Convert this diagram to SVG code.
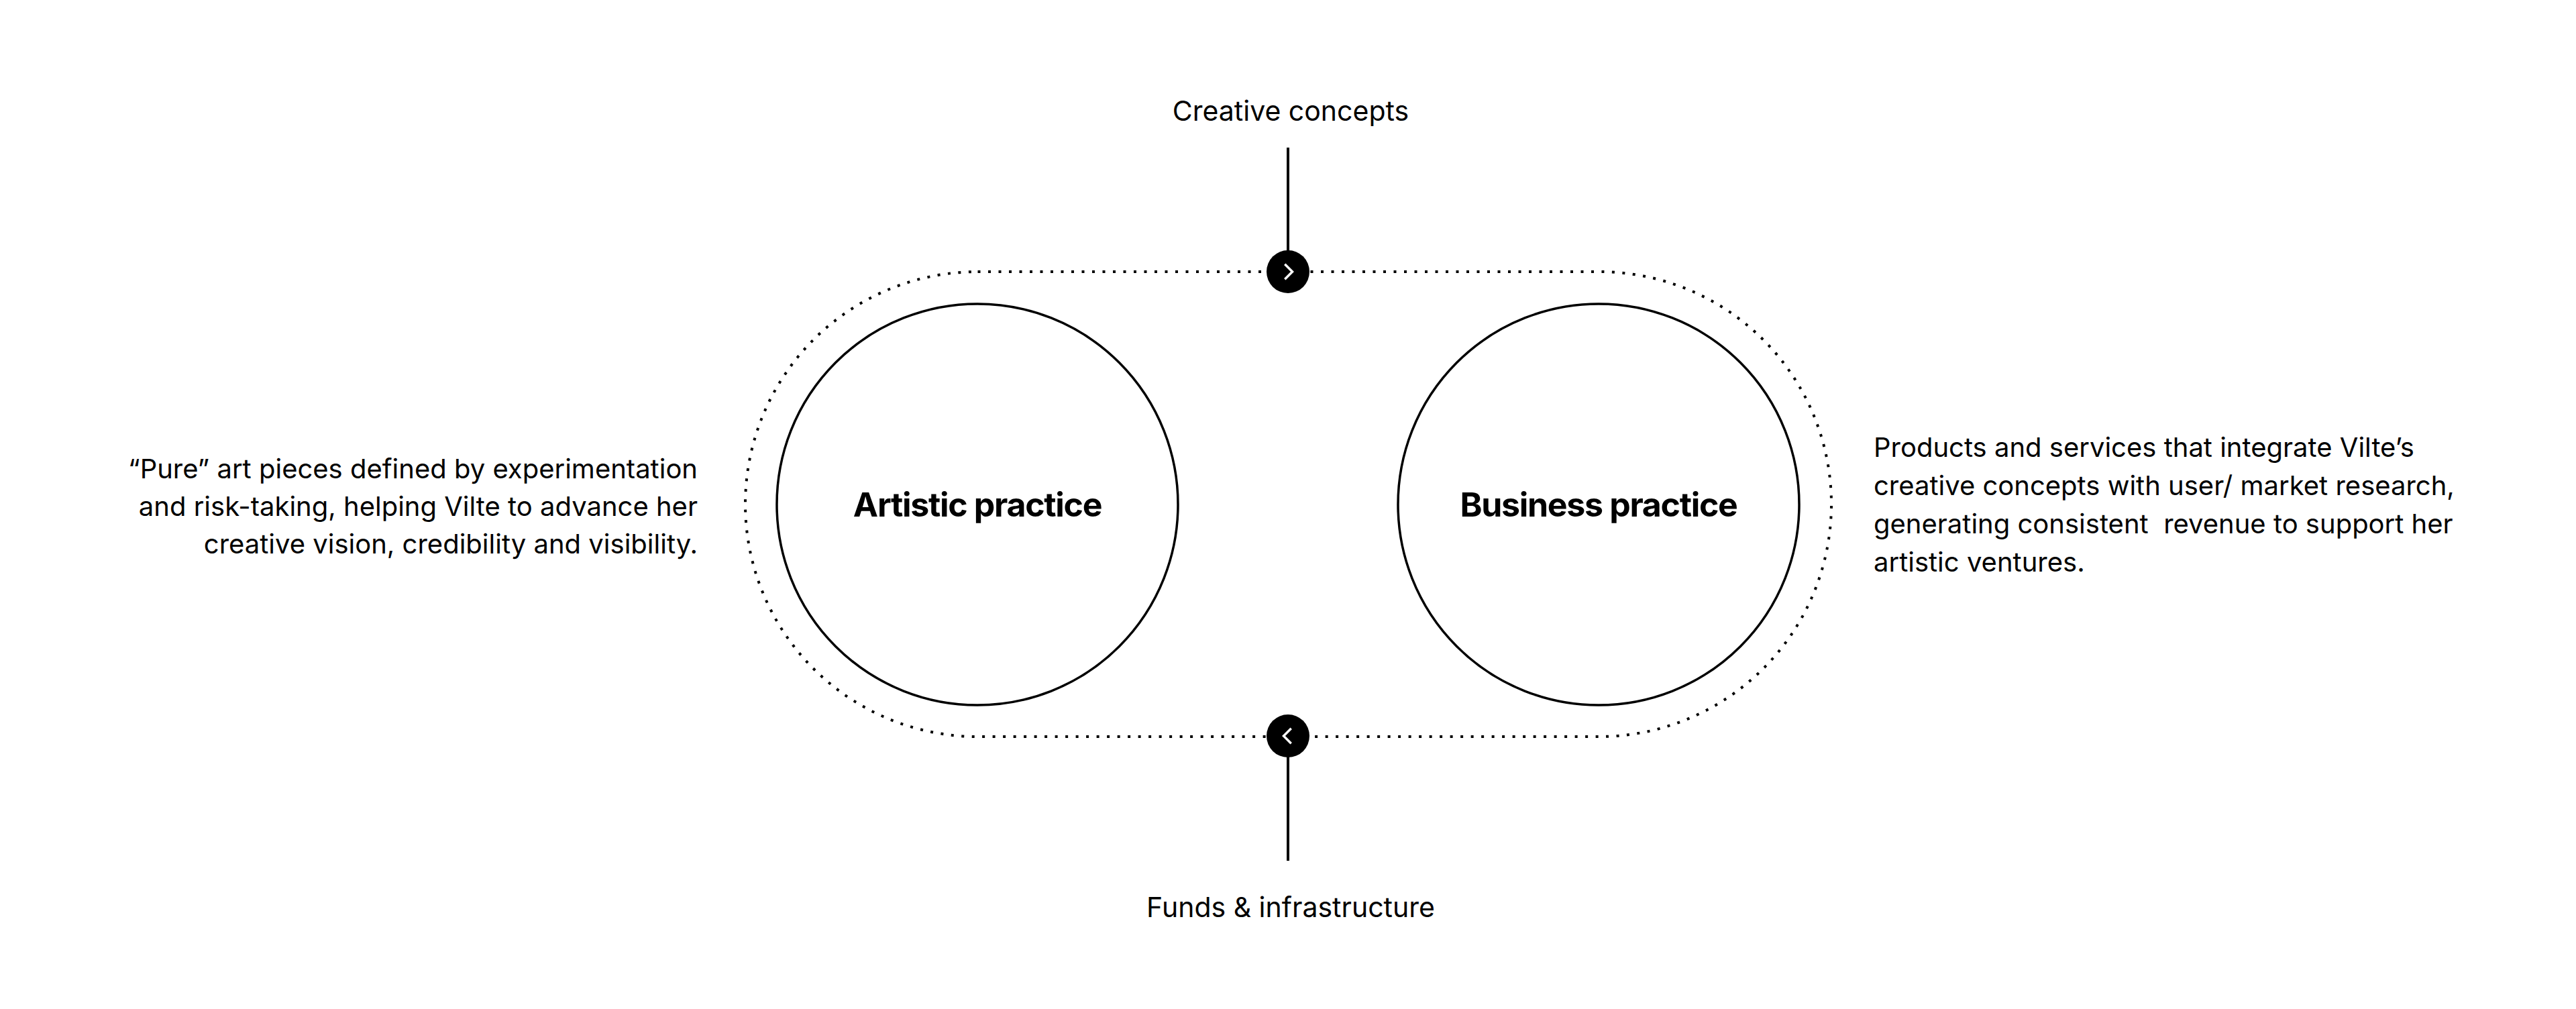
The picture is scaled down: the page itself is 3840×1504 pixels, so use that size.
<svg xmlns="http://www.w3.org/2000/svg" width="3840" height="1504" viewBox="0 0 3840 1504">
<style>
text{font-family:Inter,"Liberation Sans",sans-serif;fill:#000}
.lbl{font-size:41px}
.desc{font-size:40px}
.title{font-size:50px;font-weight:700;text-anchor:middle;letter-spacing:-1.3px}
.ring{fill:none;stroke:#000;stroke-width:3.5}
.line{stroke:#000;stroke-width:4;fill:none}
.chev{stroke:#fff;stroke-width:3.5;fill:none;stroke-linecap:square}
</style>
<rect width="3840" height="1504" fill="#fff"/>
<g id="loop">
<rect x="1111" y="405" width="1619" height="693" rx="346.5" ry="346.5" fill="none" stroke="#000" stroke-width="4" stroke-dasharray="4 11.5"/>
</g>
<g id="connectors">
<line class="line" x1="1920" y1="220" x2="1920" y2="380"/>
<line class="line" x1="1920" y1="1120" x2="1920" y2="1283"/>
</g>
<g id="node-artistic">
<circle class="ring" cx="1457" cy="752" r="299"/>
<text class="title" x="1457" y="770">Artistic practice</text>
</g>
<g id="node-business">
<circle class="ring" cx="2383" cy="752" r="299"/>
<text class="title" x="2383" y="770">Business practice</text>
</g>
<g id="node-top-arrow">
<circle cx="1920" cy="405" r="32" fill="#000"/>
<path class="chev" d="M1916.5 395 L1926.5 405 L1916.5 415"/>
</g>
<g id="node-bottom-arrow">
<circle cx="1920" cy="1097" r="32" fill="#000"/>
<path class="chev" d="M1923.5 1087 L1913.5 1097 L1923.5 1107"/>
</g>
<g id="label-creative">
<text class="lbl" x="1924" y="180" text-anchor="middle">Creative concepts</text>
</g>
<g id="label-funds">
<text class="lbl" x="1924" y="1367" text-anchor="middle">Funds &amp; infrastructure</text>
</g>
<g id="desc-artistic">
<text class="desc" text-anchor="end"><tspan x="1040" y="713">“Pure” art pieces defined by experimentation</tspan><tspan x="1040" y="769">and risk-taking, helping Vilte to advance her</tspan><tspan x="1040" y="825">creative vision, credibility and visibility.</tspan></text>
</g>
<g id="desc-business">
<text class="desc"><tspan x="2793" y="681">Products and services that integrate Vilte’s</tspan><tspan x="2793" y="738">creative concepts with user/ market research,</tspan><tspan x="2793" y="795">generating consistent &#160;revenue to support her</tspan><tspan x="2793" y="852">artistic ventures.</tspan></text>
</g>
</svg>
